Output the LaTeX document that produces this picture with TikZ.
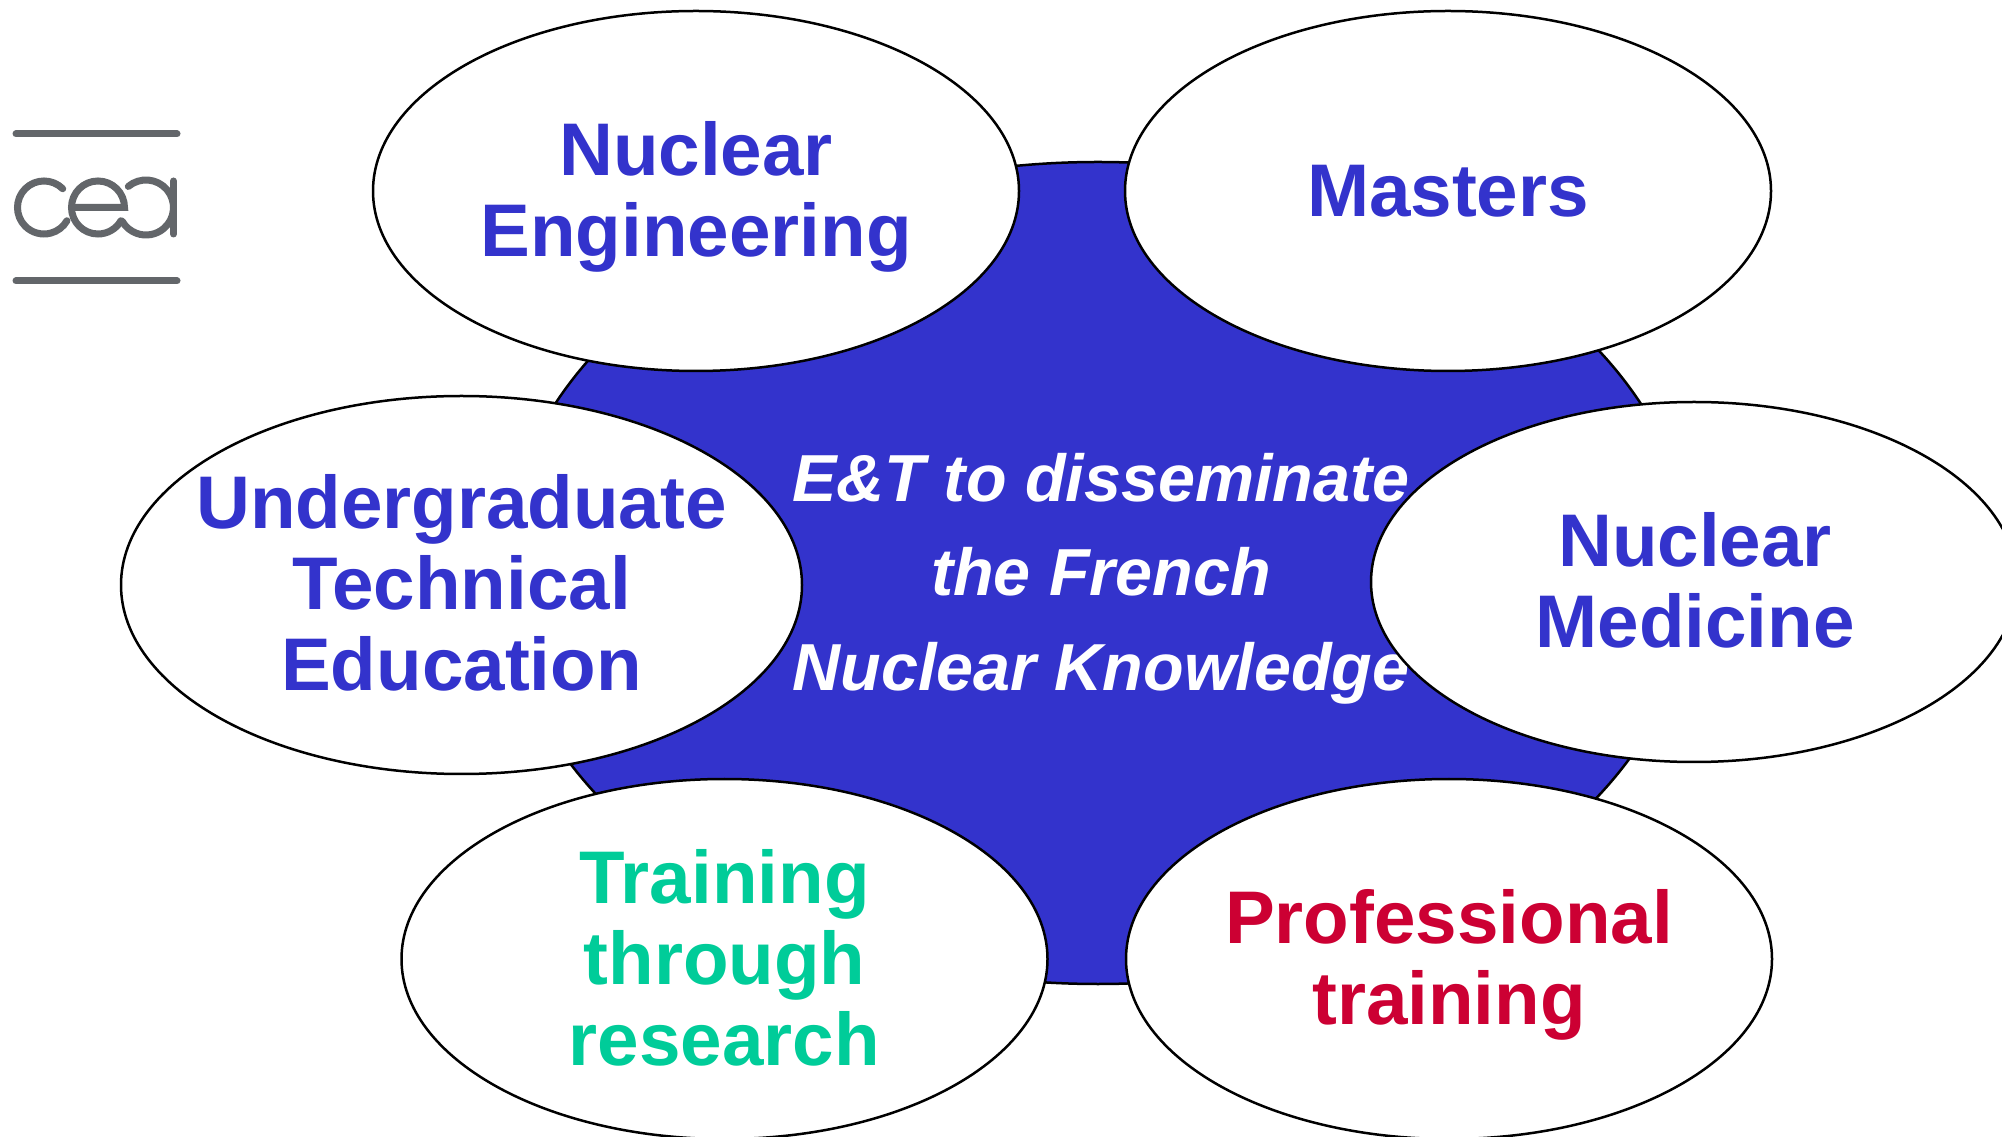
\documentclass[tikz,border=0pt]{standalone}
\usepackage{fontspec}
\setmainfont{Liberation Sans}
\usetikzlibrary{shapes.geometric}
\definecolor{ceablue}{HTML}{3333CC}
\definecolor{ceagreen}{HTML}{00CC99}
\definecolor{ceared}{HTML}{CC0033}
\definecolor{ceagray}{HTML}{63666A}
\tikzset{
  bubble/.style={ellipse,draw=black,fill=white,line width=2.5pt,inner sep=0pt,inner xsep=-60pt,outer sep=0pt,
    minimum width=646pt,minimum height=360pt},
  bubbletext/.style={align=center,text=ceablue,inner sep=0pt,
    font=\fontsize{74.6}{81}\selectfont\bfseries},
  hub/.style={ellipse,draw=black,fill=ceablue,line width=2.5pt,inner sep=0pt,outer sep=0pt,
    minimum width=1191pt,minimum height=822pt},
  hubtext/.style={align=center,text=white,inner sep=0pt,
    font=\fontsize{66.5}{94.5}\selectfont\bfseries\itshape},
  logo/.style={draw=ceagray,line width=7pt,line cap=round}
}
\begin{document}
\begin{tikzpicture}[x=1pt,y=1pt]
\useasboundingbox (0,0) rectangle (2002,1136);
\fill[white] (0,0) rectangle (2002,1136);
\node[hub] (hub) at (1098,563) {};
\node[hubtext] (hubtitle) at (1101,557.5) {E\&T to disseminate\\the French\\Nuclear Knowledge};
\node[bubble] (eng) at (696,945) {};
\node[bubble] (masters) at (1448,945) {};
\node[bubble,minimum width=681pt,minimum height=378pt] (under) at (461.5,551) {};
\node[bubble] (med) at (1694,554) {};
\node[bubble] (train) at (724.5,177) {};
\node[bubble] (prof) at (1449,177) {};
\node[bubbletext] (engt) at (696,939) {Nuclear\\Engineering};
\node[bubbletext] (masterst) at (1448,945) {Masters};
\node[bubbletext] (undert) at (461.5,553) {Undergraduate\\Technical\\Education};
\node[bubbletext] (medt) at (1695,555.5) {Nuclear\\Medicine};
\node[bubbletext,text=ceagreen] (traint) at (724.5,178.5) {Training\\through\\research};
\node[bubbletext,text=ceared] (proft) at (1449,171) {Professional\\training};
% logo
\draw[logo] (16,1002) -- (177,1002);
\draw[logo] (16,855) -- (177,855);
\draw[logo] (44,928.5) ++(45:26.5) arc[start angle=45,end angle=330,radius=26.5];
\draw[logo] (72,928.5) -- (124.5,928.5) arc[start angle=0,end angle=330,radius=26.5];
\draw[logo] (146,928.5) ++(130:27.5) arc[start angle=130,end angle=-150,radius=27.5];
\draw[logo] (173.5,955) -- (173.5,902);
\end{tikzpicture}
\end{document}
